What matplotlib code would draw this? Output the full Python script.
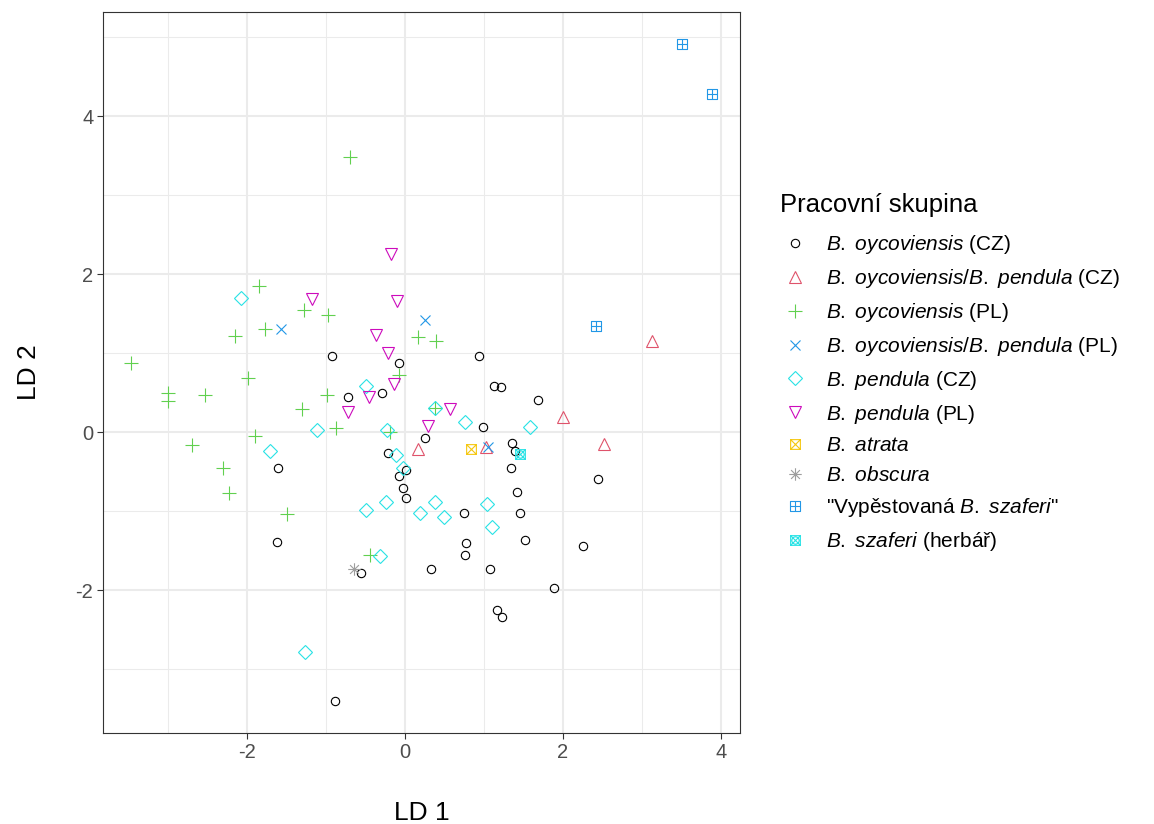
import matplotlib
matplotlib.use("Agg")
import matplotlib.pyplot as plt
from matplotlib.path import Path

plt.rcParams['font.family'] = ['Liberation Sans', 'DejaVu Sans']
plt.rcParams['mathtext.fontset'] = 'custom'
plt.rcParams['mathtext.rm'] = 'Liberation Sans'
plt.rcParams['mathtext.it'] = 'Liberation Sans:italic'
plt.rcParams['axes.unicode_minus'] = False

# LD scores per working group
oyc_cz_x = [-0.92, -0.07, 0.94, 1.13, 1.21, -0.72, -0.29, 0.99, 1.69, 1.36, 1.39, 1.34,
            2.44, 1.42, 1.45, 1.52, 2.25, 1.08, 1.89, 1.17, 1.23, 0.25, -0.21, 0.02,
            -0.07, -0.02, 0.01, 0.75, 0.77, 0.76, 0.33, -0.56, -1.60, -1.62, -0.88]
oyc_cz_y = [0.97, 0.88, 0.96, 0.58, 0.57, 0.45, 0.49, 0.07, 0.41, -0.14, -0.24, -0.45,
            -0.59, -0.76, -1.03, -1.37, -1.44, -1.73, -1.98, -2.25, -2.34, -0.08, -0.27, -0.48,
            -0.56, -0.71, -0.83, -1.02, -1.40, -1.55, -1.73, -1.78, -0.46, -1.39, -3.40]

hyb_cz_x = [2.00, 2.52, 3.13, 1.03, 0.17]
hyb_cz_y = [0.19, -0.15, 1.16, -0.19, -0.21]

oyc_pl_x = [-0.70, -1.85, -1.28, -0.97, -1.77, -2.15, -3.46, -3.00, -3.00, -2.53, -1.99, -1.30,
            -0.98, -1.90, -2.70, -2.30, -2.22, -1.49, 0.16, 0.39, -0.08, 0.38, -0.87, -0.19, -0.44]
oyc_pl_y = [3.48, 1.85, 1.55, 1.48, 1.31, 1.22, 0.88, 0.49, 0.39, 0.47, 0.68, 0.29,
            0.47, -0.05, -0.16, -0.46, -0.77, -1.04, 1.21, 1.16, 0.72, 0.31, 0.05, 0.00, -1.56]

hyb_pl_x = [-1.57, 0.26, 1.05]
hyb_pl_y = [1.31, 1.42, -0.19]

pen_cz_x = [-2.08, -0.49, 0.38, 0.76, -1.11, -0.23, -1.71, -0.11, -0.03, -0.49, -0.24, 0.19,
            0.38, 0.49, 1.04, 1.10, -0.31, 1.58, -1.27]
pen_cz_y = [1.70, 0.59, 0.30, 0.13, 0.03, 0.03, -0.24, -0.29, -0.46, -0.99, -0.88, -1.02,
            -0.88, -1.08, -0.91, -1.20, -1.57, 0.06, -2.78]

pen_pl_x = [-0.17, -1.18, -0.10, -0.36, -0.21, -0.14, -0.46, -0.72, 0.57, 0.29]
pen_pl_y = [2.26, 1.68, 1.66, 1.23, 1.00, 0.61, 0.44, 0.26, 0.29, 0.08]

atrata_x = [0.84]
atrata_y = [-0.22]

obscura_x = [-0.64]
obscura_y = [-1.73]

szaf_cult_x = [3.50, 3.88, 2.42]
szaf_cult_y = [4.91, 4.28, 1.35]

szaf_herb_x = [1.45]
szaf_herb_y = [-0.28]

group_labels = [
    r"$\mathit{B.\ oycoviensis}$ (CZ)",
    r"$\mathit{B.\ oycoviensis/B.\ pendula}$ (CZ)",
    r"$\mathit{B.\ oycoviensis}$ (PL)",
    r"$\mathit{B.\ oycoviensis/B.\ pendula}$ (PL)",
    r"$\mathit{B.\ pendula}$ (CZ)",
    r"$\mathit{B.\ pendula}$ (PL)",
    r"$\mathit{B.\ atrata}$",
    r"$\mathit{B.\ obscura}$",
    r'"Vypěstovaná $\mathit{B.\ szaferi}$"',
    r"$\mathit{B.\ szaferi}$ (herbář)",
]

# open-symbol marker paths
M, L, C = Path.MOVETO, Path.LINETO, Path.CLOSEPOLY
sq_v = [(-1, -1), (1, -1), (1, 1), (-1, 1), (-1, -1)]
sq_c = [M, L, L, L, C]
square_x = Path(sq_v + [(-1, -1), (1, 1), (-1, 1), (1, -1)], sq_c + [M, L, M, L])
square_plus = Path(sq_v + [(-1, 0), (1, 0), (0, -1), (0, 1)], sq_c + [M, L, M, L])
d = 0.7071
asterisk = Path([(-1, 0), (1, 0), (0, -1), (0, 1), (-d, -d), (d, d), (-d, d), (d, -d)],
                [M, L, M, L, M, L, M, L])
circ = Path.unit_circle()
circle_x = Path.make_compound_path(
    Path(sq_v, sq_c),
    Path([(-1, -1), (1, 1), (-1, 1), (1, -1)], [M, L, M, L]),
    Path(circ.vertices * 0.75, circ.codes))

groups = [
    (oyc_cz_x, oyc_cz_y, 'o', 'black', 6.0),
    (hyb_cz_x, hyb_cz_y, '^', '#DF536B', 8.0),
    (oyc_pl_x, oyc_pl_y, '+', '#61D04F', 10.0),
    (hyb_pl_x, hyb_pl_y, 'x', '#2297E6', 7.5),
    (pen_cz_x, pen_cz_y, 'D', '#28E2E5', 7.0),
    (pen_pl_x, pen_pl_y, 'v', '#CD0BBC', 8.0),
    (atrata_x, atrata_y, square_x, '#F5C710', 7.0),
    (obscura_x, obscura_y, asterisk, '#9E9E9E', 9.0),
    (szaf_cult_x, szaf_cult_y, square_plus, '#2297E6', 7.0),
    (szaf_herb_x, szaf_herb_y, circle_x, '#28E2E5', 7.0),
]

fig = plt.figure(figsize=(11.54, 8.24), dpi=100)
ax = fig.add_axes([103 / 1154, 1 - 733 / 824, (740 - 103) / 1154, (733 - 12) / 824])

for (gx, gy, mk, col, ms), lab in zip(groups, group_labels):
    ax.plot(gx, gy, linestyle='none', marker=mk, markersize=ms,
            markerfacecolor='none', markeredgecolor=col, markeredgewidth=0.8,
            label=lab, zorder=3)

ax.set_xlim(-3.82, 4.24)
ax.set_ylim(-3.81, 5.32)
ax.set_xticks([-2, 0, 2, 4])
ax.set_yticks([-2, 0, 2, 4])
ax.set_xticks([-3, -1, 1, 3], minor=True)
ax.set_yticks([-3, -1, 1, 3, 5], minor=True)
ax.grid(which='major', color='#EBEBEB', linewidth=1.5)
ax.grid(which='minor', color='#EBEBEB', linewidth=0.75)
ax.set_axisbelow(True)
for sp in ax.spines.values():
    sp.set_color('#333333')
    sp.set_linewidth(0.8)
ax.tick_params(which='major', length=4, width=0.8, color='#333333',
               labelcolor='#4D4D4D', labelsize=14.5, pad=3)
ax.tick_params(which='minor', length=0)
ax.set_xlabel('LD 1', fontsize=19, labelpad=28)
ax.set_ylabel('LD 2', fontsize=19, labelpad=25)

leg = ax.legend(loc='upper left', bbox_to_anchor=(780 / 1154, 1 - 193 / 824),
                bbox_transform=fig.transFigure, frameon=False,
                title='Pracovní skupina', alignment='left',
                fontsize=15, title_fontsize=18.5, borderpad=0, borderaxespad=0,
                handlelength=1.4, handletextpad=0.8, labelspacing=0.52)
# a little extra room between the title and the first entry
leg._legend_box.sep = 0.52 * 15 + 4

fig.savefig('out.png', dpi=100, facecolor='white')
